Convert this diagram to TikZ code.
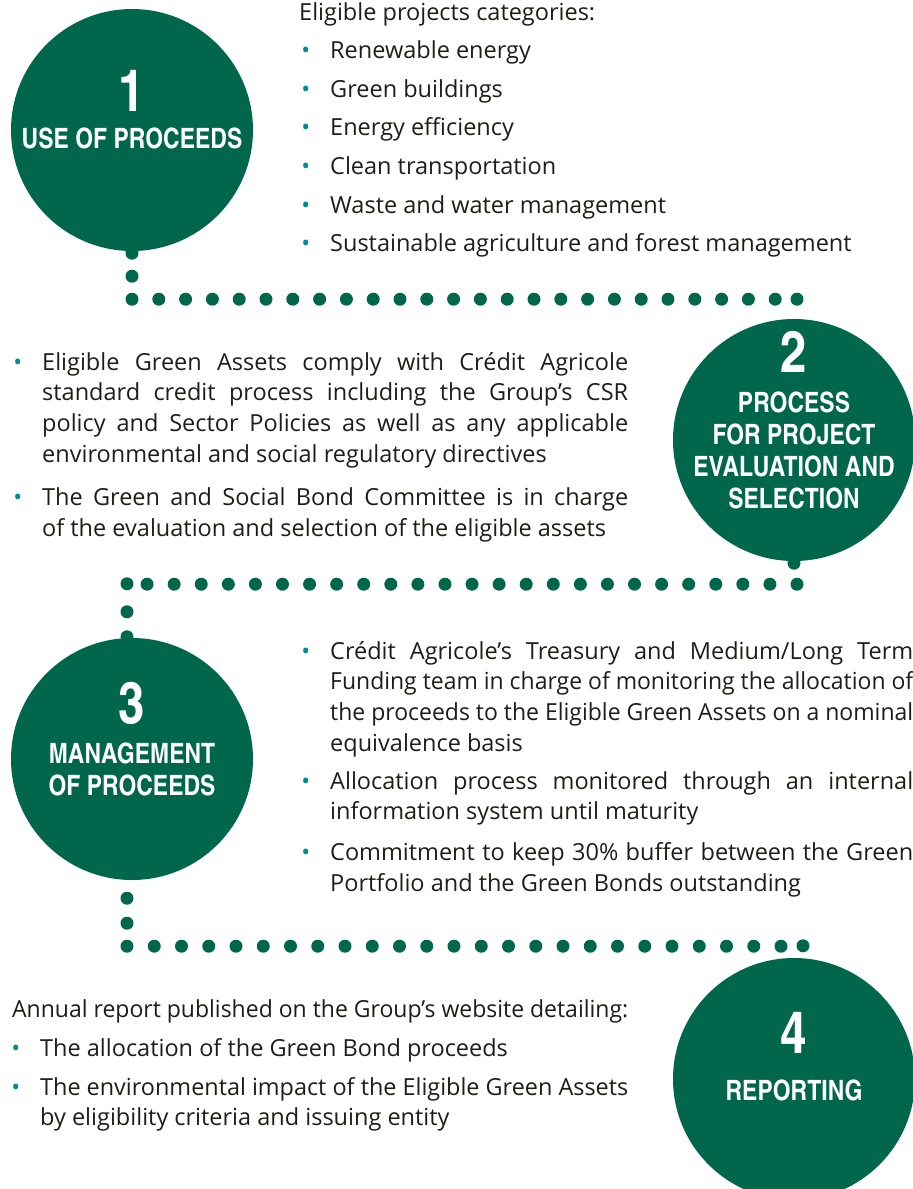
\documentclass[tikz,border=0pt]{standalone}
\usepackage{fontspec}
\setmainfont{Open Sans}
\newfontfamily\headfont{texgyreheroscn-bold}[Extension=.otf]
\usepackage{graphicx}
\usepackage{tikz}
\usetikzlibrary{positioning,calc}
\usepackage{xcolor}
\definecolor{cagreen}{RGB}{0,103,77}
\definecolor{cateal}{RGB}{0,140,150}
\definecolor{catext}{RGB}{29,29,27}
% a line squeezed to a width when too long
\newsavebox\linebox
\newcommand{\fitto}[2]{\sbox\linebox{#2}%
  \ifdim\wd\linebox>#1\resizebox{#1}{\height}{\usebox\linebox}\else\usebox\linebox\fi}
% one justified line
\newcommand{\jl}[1]{\sbox\linebox{#1}%
  \ifdim\wd\linebox>\hsize\resizebox{\hsize}{\height}{\usebox\linebox}%
  \else{\spaceskip=.26em plus 1em\hbox to\hsize{#1}}\fi\par}
% bullet hung in the margin
\newcommand{\bul}{\noindent\llap{\textcolor{cateal}{\textbullet}\hspace{20pt}}}

\begin{document}
\begin{tikzpicture}[x=1pt, y=-1pt,
  stage/.style={circle, fill=cagreen, minimum size=242pt, inner sep=0pt},
  stagenum/.style={text=white, font=\headfont\fontsize{58}{58}\selectfont, anchor=base, inner sep=0pt},
  stagetitle/.style={text=white, font=\headfont\fontsize{28}{32}\selectfont, align=center, anchor=base, inner sep=0pt},
  txt/.style={text=catext, anchor=base west, inner sep=0pt, align=left}]
\useasboundingbox (0,0) rectangle (913,1189);

% stages (base of a title = its last line)
\node[stage] (c1) at (132,130) {};
\node[stagenum] (n1) at ([yshift=19pt]c1.center) {1};
\node[stagetitle] (t1) at ([yshift=-18.5pt]c1.center) {USE OF PROCEEDS};

\node[stage] (c2) at (794,440) {};
\node[stagenum] (n2) at ([yshift=68pt]c2.center) {2};
\node[stagetitle] (t2) at ([yshift=-68pt]c2.center) {PROCESS\\FOR PROJECT\\EVALUATION AND\\SELECTION};

\node[stage] (c3) at (132,759) {};
\node[stagenum] (n3) at ([yshift=36pt]c3.center) {3};
\node[stagetitle] (t3) at ([yshift=-36pt]c3.center) {MANAGEMENT\\OF PROCEEDS};

\node[stage] (c4) at (794,1079) {};
\node[stagenum] (n4) at ([yshift=26pt]c4.center) {4};
\node[stagetitle] (t4) at ([yshift=-21pt]c4.center) {REPORTING};

% dotted links between the stages
\coordinate (r1a) at ($(c1.south)+(0,48)$);
\coordinate (r1b) at ($(c2.north |- r1a)+(3,0)$);
\foreach \d in {2,25} \fill[cagreen] ($(c1.south)+(0,\d)$) circle (6.5pt);
\foreach \k in {0,...,24} \fill[cagreen] ($(r1a)+(\k*26.8,0)$) circle (6.5pt);
\fill[cagreen] (r1b) circle (6.5pt);

\coordinate (r2a) at ($(c2.south)+(3,23)$);
\coordinate (r2b) at ($(c3.north)+(-5,-54)$);
\fill[cagreen] ($(c2.south)+(0,2)$) circle (6.5pt);
\foreach \k in {0,...,24} \fill[cagreen] ($(r2a)+(-\k*27.08,0)$) circle (6.5pt);
\fill[cagreen] (r2b) circle (6.5pt);
\foreach \d in {-26,-1} \fill[cagreen] ($(c3.north)+(-5,\d)$) circle (6.5pt);

\coordinate (r3a) at ($(c3.south)+(-5,66)$);
\coordinate (r3b) at ($(c4.north)+(9,-12)$);
\foreach \d in {18,43} \fill[cagreen] ($(c3.south)+(-5,\d)$) circle (6.5pt);
\foreach \k in {0,...,24} \fill[cagreen] ($(r3a)+(\k*27.25,0)$) circle (6.5pt);
\fill[cagreen] (r3b) circle (6.5pt);

% texts
\node[txt, text width=570pt, font=\fontsize{23.5}{38.6}\selectfont] (l1) at (330,20) {%
\spaceskip=0pt\noindent\hspace*{-31pt}Eligible projects categories:\par
\bul Renewable energy\par
\bul Green buildings\par
\bul Energy efficiency\par
\bul Clean transportation\par
\bul Waste and water management\par
\bul Sustainable agriculture and forest management\par};

\node[txt, text width=586pt, font=\fontsize{23.5}{30.7}\selectfont] (l2) at (42,370) {%
\spaceskip=0pt
\bul\jl{Eligible Green Assets comply with Crédit Agricole}
\jl{standard credit process including the Group’s CSR}
\jl{policy and Sector Policies as well as any applicable}
environmental and social regulatory directives\par\vspace{12.5pt}
\bul\jl{The Green and Social Bond Committee is in charge}
of the evaluation and selection of the eligible assets\par};

\node[txt, text width=583pt, font=\fontsize{23.5}{30.7}\selectfont] (l3) at (330,659) {%
\spaceskip=0pt
\bul\jl{Crédit Agricole’s Treasury and Medium/Long Term}
\jl{Funding team in charge of monitoring the allocation of}
\jl{the proceeds to the Eligible Green Assets on a nominal}
equivalence basis\par\vspace{7.3pt}
\bul\jl{Allocation process monitored through an internal}
information system until maturity\par\vspace{10.3pt}
\bul\jl{Commitment to keep 30\% buffer between the Green}
Portfolio and the Green Bonds outstanding\par};

\node[txt, text width=600pt, font=\fontsize{23.5}{30.5}\selectfont] (l4) at (40,1017) {%
\spaceskip=0pt
\noindent\hspace*{-28pt}\fitto{616pt}{Annual report published on the Group’s website detailing:}\par\vspace{8.5pt}
\bul The allocation of the Green Bond proceeds\par\vspace{8.5pt}
\bul\fitto{588pt}{The environmental impact of the Eligible Green Assets}\par
by eligibility criteria and issuing entity\par};
\end{tikzpicture}
\end{document}
